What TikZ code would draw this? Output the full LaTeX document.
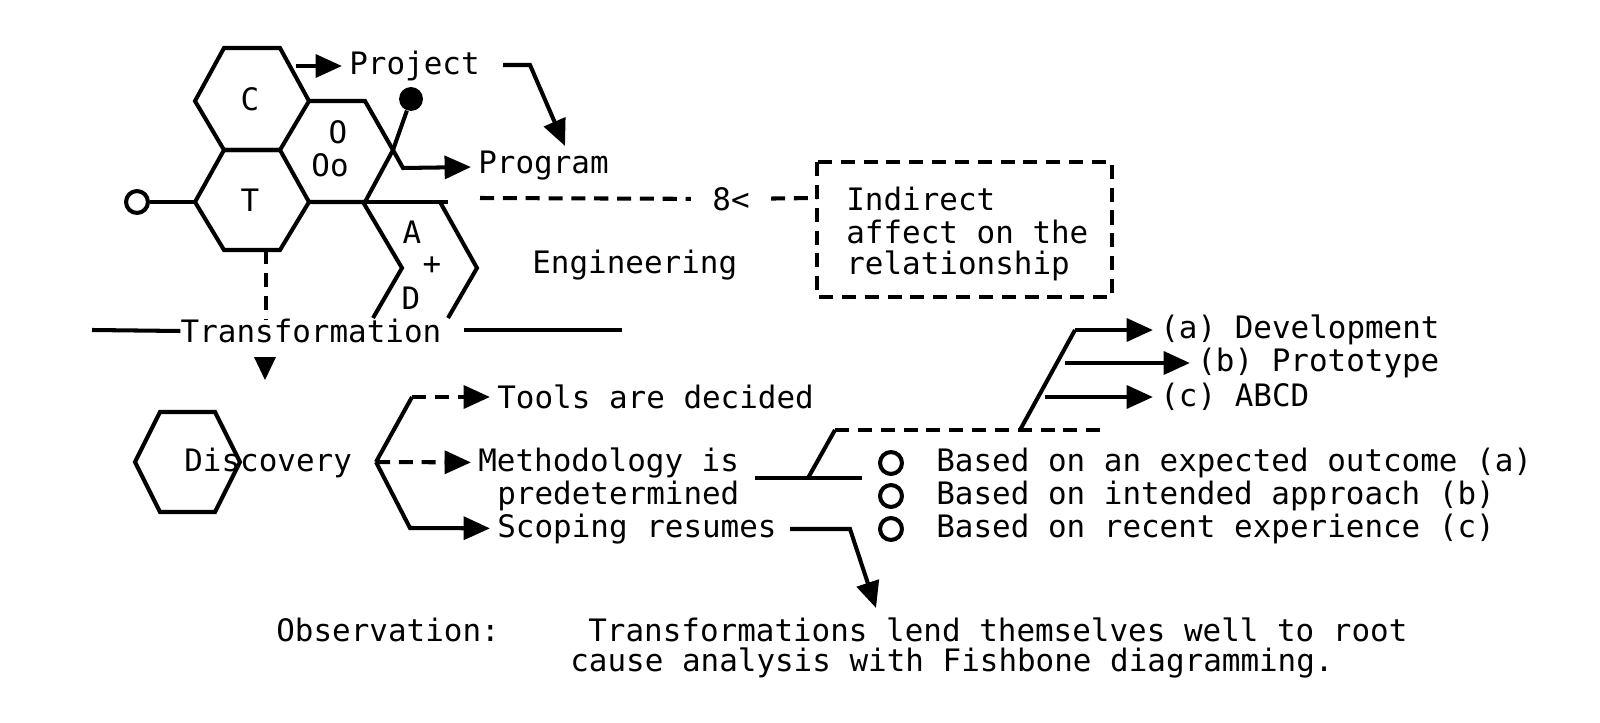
\documentclass[tikz,border=0pt]{standalone}
\usepackage{fontspec}
\setmainfont{DejaVu Sans Mono}
\usetikzlibrary{arrows.meta}
\begin{document}
\begin{tikzpicture}[x=0.02cm,y=-0.02cm,
  every node/.style={inner sep=0pt,font=\fontsize{17.6}{21}\selectfont},
  ln/.style={line width=2.3pt,line join=miter},
  ds/.style={ln,dash pattern=on 8pt off 5pt},
  ar/.style={ln,-{Triangle[length=15pt,width=13pt]},shorten >=4pt},
  txt/.style={anchor=west}]
\useasboundingbox (0,0) rectangle (1600,723);
% hexagons
\draw[ln] (195,101)--(224,48)--(280,48)--(309,101)--(280,150)--(224,150)--cycle;
\draw[ln] (195,202)--(224,150)--(280,150)--(309,202)--(280,250)--(224,250)--cycle;
\draw[ln] (309,101)--(365,101)--(393,150)--(365,202)--(309,202);
\node (C) at (250,99) {C};
\node (T) at (250,200) {T};
\node (O) at (338,132) {O};
\node (Oo) at (330,165) {Oo};
% ball and circle
\coordinate (v) at (393,150);
\node[circle,fill,minimum size=24pt*0.567,inner sep=0] (ball) at (411,99) {};
\draw[ln] (v)--(ball);
\node[circle,draw,line width=2.3pt,minimum size=22pt*0.567] (lc) at (137,202) {};
\draw[ln] (lc)--(195,202);
% Project / Program
\node[txt] (proj) at (349,66) {Project};
\draw[ar] (296,66)--(proj);
\node[txt] (prog) at (478,166) {Program};
\draw[ar] (v)--(403,168)--(prog);
\draw[ar,shorten >=0pt] (503,65)--(530,65)--(565,146);
% A+D
\draw[ln] (309,202)--(448,202);
\draw[ln] (363,202)--(402,268)--(373,318);
\draw[ln] (440,202)--(477,268)--(448,318);
\node (A) at (412,232) {A};
\node (P) at (432,266) {+};
\node (D) at (411,298) {D};
\node[txt] (eng) at (532,265) {Engineering};
% dashed to box
\node (scis) at (731,199) {8<};
\draw[ds,shorten >=12pt] (480,198)--(scis);
\draw[ds,shorten <=12pt] (scis)--(817,198);
\draw[ds] (817,162) rectangle (1112,297);
\node[txt] (ind) at (846,199) {Indirect};
\node[txt] (aff) at (846,232) {affect on the};
\node[txt] (rel) at (846,266) {relationship};
% transformation
\node (trans) at (311,331) {Transformation};
\draw[ds] (266,250)--(trans.north -| 266,0);
\draw[ln] (92,330)--(trans.west);
\draw[ln] (464,330)--(622,330);
\fill (254,357)--(276,357)--(265,380)--cycle;
% discovery
\draw[ln] (135,462)--(160,412)--(215,412)--(240,462)--(215,512)--(160,512)--cycle;
\node[txt] (disc) at (184,463) {Discovery};
\coordinate (b) at (376,462);
\node[txt] (tools) at (497,397) {Tools are decided};
\node[txt] (meth) at (478,463) {Methodology is};
\node[txt] (pred) at (497,496) {predetermined};
\node[txt] (scop) at (497,529) {Scoping resumes};
\draw[ln] (b)--(412,397);
\draw[ds,-{Triangle[length=15pt,width=13pt]},shorten >=4pt] (412,397)--(tools);
\draw[ds,-{Triangle[length=15pt,width=13pt]},shorten >=4pt] (b)--(meth);
\draw[ar] (b)--(410,528)--(scop);
% fishbone right
\draw[ln] (755,478)--(862,478);
\draw[ln] (808,478)--(835,430);
\draw[ds] (835,430)--(1100,430);
\node[txt] (dev) at (1160,330) {(a) Development};
\node[txt] (prot) at (1197,363) {(b) Prototype};
\node[txt] (abcd) at (1160,397) {(c) ABCD};
\draw[ln] (1020,430)--(1075,330);
\draw[ar] (1075,330)--(dev);
\draw[ar] (1065,363)--(prot);
\draw[ar] (1045,397)--(abcd);
\foreach \y/\t [count=\i] in {463/Based on an expected outcome (a),496/Based on intended approach (b),529/Based on recent experience (c)}{
  \node[circle,draw,line width=2.3pt,minimum size=22pt*0.567] (c\i) at (891,\y) {};
  \node[txt] (bt\i) at (936,\y) {\t};
}
\draw[ar,shorten >=0pt] (790,529)--(850,529)--(876,608);
% observation
\node[txt] (obs) at (276,630) {Observation:};
\node[txt] (o1) at (588,630) {Transformations lend themselves well to root};
\node[txt] (o2) at (570,663) {cause analysis with Fishbone diagramming.};
\end{tikzpicture}
\end{document}
